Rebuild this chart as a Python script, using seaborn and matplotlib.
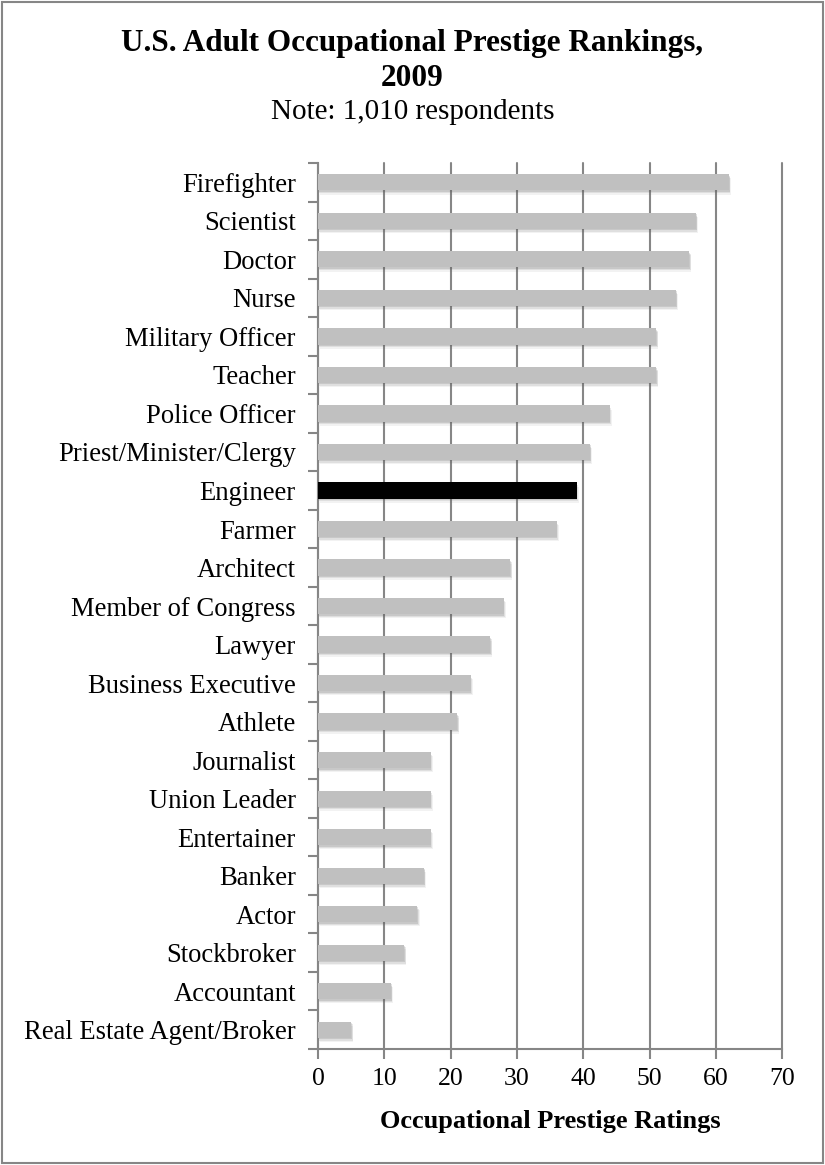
import matplotlib
matplotlib.use("Agg")
import matplotlib.pyplot as plt
import matplotlib.patheffects as pe
from matplotlib.patches import Rectangle
from matplotlib.ticker import FixedLocator
import numpy as np
import pandas as pd
import seaborn as sns

occupations = [
    "Firefighter", "Scientist", "Doctor", "Nurse", "Military Officer", "Teacher",
    "Police Officer", "Priest/Minister/Clergy", "Engineer", "Farmer", "Architect",
    "Member of Congress", "Lawyer", "Business Executive", "Athlete", "Journalist",
    "Union Leader", "Entertainer", "Banker", "Actor", "Stockbroker", "Accountant",
    "Real Estate Agent/Broker",
]
ratings = [62, 57, 56, 54, 51, 51, 44, 41, 39, 36, 29, 28, 26, 23, 21, 17, 17, 17, 16, 15, 13, 11, 5]
highlight = "Engineer"
x_ticks = [0, 10, 20, 30, 40, 50, 60, 70]

df = pd.DataFrame({"occupation": occupations, "rating": ratings})
palette = {o: ("#000000" if o == highlight else "#c0c0c0") for o in occupations}

sns.set_style("white")
plt.rcParams["font.family"] = ["Liberation Serif", "DejaVu Serif"]
plt.rcParams["text.color"] = "black"
plt.rcParams["xtick.color"] = "black"
plt.rcParams["ytick.color"] = "black"
plt.rcParams["axes.labelcolor"] = "black"

grid_grey = "#868686"

fig = plt.figure(figsize=(8.25, 11.65), dpi=100)
ax = fig.add_axes([0.3855, 0.0996, 0.5625, 0.7604])

sns.barplot(data=df, y="occupation", x="rating", hue="occupation", palette=palette,
            order=occupations, legend=False, width=0.42, saturation=1, ax=ax,
            orient="h", zorder=3)

# soft drop shadow under every bar
for bar in ax.patches:
    bar.set_edgecolor("none")
    bar.set_path_effects([
        pe.SimplePatchShadow(offset=(0.5, -1.0), shadow_rgbFace="#606060", alpha=0.18),
        pe.SimplePatchShadow(offset=(1.0, -2.0), shadow_rgbFace="#606060", alpha=0.13),
        pe.SimplePatchShadow(offset=(1.5, -3.0), shadow_rgbFace="#606060", alpha=0.08),
        pe.Normal(),
    ])

ax.set_xlim(0, 70)
ax.set_ylim(len(occupations) - 0.5, -0.5)
ax.set_xticks(x_ticks)
ax.set_xticklabels([str(v) for v in x_ticks])
ax.xaxis.grid(True, color=grid_grey, linewidth=1.5, zorder=0)
ax.set_axisbelow(True)
for gl in ax.xaxis.get_gridlines():
    gl.set_clip_on(False)

# category labels without marks, marks on the category boundaries
ax.tick_params(axis="y", which="major", length=0, pad=16, labelsize=19.2)
ax.yaxis.set_minor_locator(FixedLocator(np.arange(-0.5, len(occupations), 1.0)))
ax.tick_params(axis="y", which="minor", length=7, width=1.5, color=grid_grey, left=True)
ax.tick_params(axis="x", which="major", length=7, width=1.5, color=grid_grey,
               bottom=True, labelsize=18.5, pad=7)

for side in ["top", "right"]:
    ax.spines[side].set_visible(False)
for side in ["left", "bottom"]:
    ax.spines[side].set_color(grid_grey)
    ax.spines[side].set_linewidth(1.5)

ax.set_ylabel("")
ax.set_xlabel("Occupational Prestige Ratings", fontsize=19, fontweight="bold", labelpad=14)

fig.text(0.5, 0.9630, "U.S. Adult Occupational Prestige Rankings,", ha="center", va="center",
         fontsize=22.5, fontweight="bold")
fig.text(0.5, 0.9330, "2009", ha="center", va="center", fontsize=22.5, fontweight="bold")
fig.text(0.5, 0.9035, "Note: 1,010 respondents", ha="center", va="center", fontsize=21)

fig.patches.append(Rectangle((0.002, 0.002), 0.996, 0.996, transform=fig.transFigure,
                             fill=False, edgecolor=grid_grey, linewidth=1.5))

fig.savefig("out.png", dpi=100)
